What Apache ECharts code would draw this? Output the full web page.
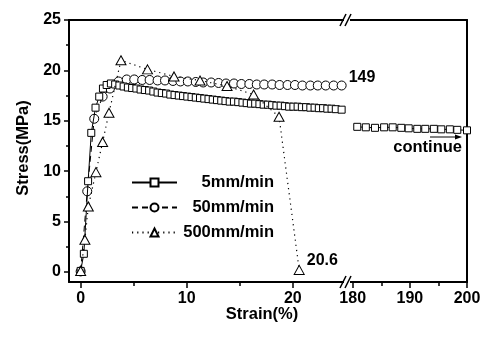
<!DOCTYPE html>
<html><head><meta charset="utf-8">
<script src="https://cdn.jsdelivr.net/npm/echarts@6/dist/echarts.min.js"></script>
<style>html,body{margin:0;padding:0;background:#fff}#c{width:485px;height:340px}</style>
</head><body><div id="c"></div><script>
// ---- data ----
const strain5 = [0, 0.3, 0.7, 1.0, 1.4, 1.75, 2.1, 2.45, 2.85, 3.25, 3.65, 4.05, 4.45, 4.85, 5.25, 5.65, 6.05, 6.45, 6.85, 7.25, 7.65, 8.05, 8.45, 8.85, 9.25, 9.65, 10.05, 10.45, 10.85, 11.25, 11.65, 12.05, 12.45, 12.85, 13.25, 13.65, 14.05, 14.45, 14.85, 15.25, 15.65, 16.05, 16.45, 16.85, 17.25, 17.65, 18.05, 18.45, 18.85, 19.25, 19.65, 20.05, 20.45, 20.85, 21.25, 21.65, 22.05, 22.45, 22.85, 23.25, 23.65, 24.05, 24.6];
const stress5 = [0.1, 1.8, 9.0, 13.8, 16.3, 17.4, 18.2, 18.55, 18.7, 18.6, 18.5, 18.4, 18.3, 18.25, 18.2, 18.1, 18.05, 18.0, 17.9, 17.8, 17.75, 17.7, 17.6, 17.55, 17.5, 17.45, 17.4, 17.35, 17.3, 17.25, 17.2, 17.15, 17.1, 17.05, 17.0, 16.95, 16.9, 16.9, 16.85, 16.8, 16.75, 16.7, 16.7, 16.65, 16.6, 16.6, 16.55, 16.5, 16.5, 16.45, 16.4, 16.4, 16.4, 16.35, 16.35, 16.3, 16.3, 16.25, 16.25, 16.2, 16.2, 16.15, 16.1];
const strain5cont = [180.8, 182.3, 183.9, 185.5, 187.0, 188.5, 189.8, 191.3, 192.7, 194.2, 195.5, 197.0, 198.3, 200.0];
const stress5cont = [14.4, 14.35, 14.3, 14.35, 14.35, 14.3, 14.25, 14.2, 14.2, 14.2, 14.15, 14.15, 14.1, 14.05];
const strain50 = [0, 0.62, 1.28, 2.07, 2.76, 3.58, 4.34, 5.05, 5.8, 6.5, 7.25, 7.95, 8.7, 9.4, 10.1, 10.85, 11.55, 12.3, 13.0, 13.7, 14.45, 15.15, 15.9, 16.6, 17.3, 18.05, 18.75, 19.5, 20.2, 20.9, 21.65, 22.35, 23.1, 23.85, 24.6];
const stress50 = [0.05, 8.0, 15.2, 17.4, 18.2, 18.9, 19.1, 19.1, 19.05, 19.05, 19.0, 19.0, 18.95, 18.9, 18.9, 18.85, 18.8, 18.8, 18.75, 18.7, 18.7, 18.65, 18.65, 18.6, 18.6, 18.6, 18.55, 18.55, 18.55, 18.5, 18.5, 18.5, 18.5, 18.5, 18.5];
const strain500 = [0, 0.4, 0.72, 1.44, 2.07, 2.67, 3.8, 6.3, 8.8, 11.25, 13.8, 16.3, 18.7, 20.6];
const stress500 = [0.1, 3.2, 6.5, 9.9, 12.9, 15.8, 21.0, 20.1, 19.4, 19.0, 18.45, 17.6, 15.4, 0.2];
const seriesNames = ['5mm/min', '50mm/min', '500mm/min'];
const xTicksLeft = [0, 10, 20];
const xMinorLeft = [5, 15];
const xTicksRight = [180, 190, 200];
const xMinorRight = [185, 195];
const yTicks = [0, 5, 10, 15, 20, 25];
const yMinor = [2.5, 7.5, 12.5, 17.5, 22.5];
const endLabel50 = '149';
const endLabel500 = '20.6';

// ---- chart ----
const F = '"Liberation Sans", Arial, sans-serif';
const txt = {fontFamily: F, fontWeight: 'bold', fontSize: 16, color: '#000'};
const zip = (a, b) => a.map((v, i) => [v, b[i]]);
const blackLine = {show: true, onZero: false, lineStyle: {color: '#000', width: 2}};
const noLine = {show: false, onZero: false};
const sym = {color: '#fff', borderColor: '#000', borderWidth: 1};

function lastLabel(arr, text, offset) {
  return arr.map((p, i) => i === arr.length - 1 ?
    {value: p, label: {show: true, formatter: text, position: 'right', distance: 2, offset: offset, ...txt}} : p);
}

const chart = echarts.init(document.getElementById('c'), null, {renderer: 'canvas'});
chart.setOption({
  animation: false,
  backgroundColor: '#fff',
  grid: [
    {left: 69, top: 20, width: 279, height: 262},
    {left: 348, top: 20, width: 119, height: 262}
  ],
  xAxis: [
    {gridIndex: 0, type: 'value', min: -1.1, max: 25.2, position: 'bottom', axisLine: blackLine, splitLine: {show: false},
      axisTick: {show: true, customValues: xTicksLeft, length: 6, lineStyle: {color: '#000', width: 1.5}},
      axisLabel: {show: true, customValues: xTicksLeft, margin: 9, ...txt}},
    {gridIndex: 0, type: 'value', min: -1.1, max: 25.2, position: 'bottom', offset: 0, axisLine: noLine, splitLine: {show: false},
      axisTick: {show: true, customValues: xMinorLeft, length: 4, lineStyle: {color: '#000', width: 1.5}},
      axisLabel: {show: false}},
    {gridIndex: 0, type: 'value', min: -1.1, max: 25.2, position: 'top', axisLine: blackLine, splitLine: {show: false},
      axisTick: {show: false}, axisLabel: {show: false}},
    {gridIndex: 1, type: 'value', min: 179.18, max: 200, position: 'bottom', axisLine: blackLine, splitLine: {show: false},
      axisTick: {show: true, customValues: xTicksRight, length: 6, lineStyle: {color: '#000', width: 1.5}},
      axisLabel: {show: true, customValues: xTicksRight, margin: 9, ...txt}},
    {gridIndex: 1, type: 'value', min: 179.18, max: 200, position: 'bottom', offset: 0, axisLine: noLine, splitLine: {show: false},
      axisTick: {show: true, customValues: xMinorRight, length: 4, lineStyle: {color: '#000', width: 1.5}},
      axisLabel: {show: false}},
    {gridIndex: 1, type: 'value', min: 179.18, max: 200, position: 'top', axisLine: blackLine, splitLine: {show: false},
      axisTick: {show: false}, axisLabel: {show: false}}
  ],
  yAxis: [
    {gridIndex: 0, type: 'value', min: -1, max: 25, position: 'left', axisLine: blackLine, splitLine: {show: false},
      axisTick: {show: true, customValues: yTicks, length: 5, lineStyle: {color: '#000', width: 1.5}},
      axisLabel: {show: true, customValues: yTicks, margin: 8, ...txt},
      name: 'Stress(MPa)', nameLocation: 'middle', nameGap: 36, nameRotate: 90,
      nameTextStyle: {...txt, fontSize: 16.5, padding: [0, 0, 0, 6]}},
    {gridIndex: 0, type: 'value', min: -1, max: 25, position: 'left', offset: 0, axisLine: noLine, splitLine: {show: false},
      axisTick: {show: true, customValues: yMinor, length: 3, lineStyle: {color: '#000', width: 1.5}},
      axisLabel: {show: false}},
    {gridIndex: 1, type: 'value', min: -1, max: 25, position: 'right', axisLine: blackLine, splitLine: {show: false},
      axisTick: {show: false}, axisLabel: {show: false}}
  ],
  legend: {
    orient: 'vertical', left: 126, top: 169, itemWidth: 45, itemHeight: 10, itemGap: 8,
    selectedMode: false, data: seriesNames,
    formatter: n => '{a|' + n + '}',
    textStyle: {rich: {a: {width: 92, align: 'right', lineHeight: 18, ...txt, fontSize: 16.5}}}
  },
  series: [
    {name: seriesNames[1], type: 'line', xAxisIndex: 0, yAxisIndex: 0, data: lastLabel(zip(strain50, stress50), endLabel50, [0, -8]),
      symbol: 'circle', symbolSize: 9, itemStyle: sym, lineStyle: {color: '#000', width: 1, type: [6, 4]}, emphasis: {disabled: true}, z: 2},
    {name: seriesNames[0], type: 'line', xAxisIndex: 0, yAxisIndex: 0, data: zip(strain5, stress5),
      symbol: 'rect', symbolSize: 7, itemStyle: sym, lineStyle: {color: '#000', width: 1, type: 'solid'}, emphasis: {disabled: true}, z: 3},
    {name: seriesNames[2], type: 'line', xAxisIndex: 0, yAxisIndex: 0, data: lastLabel(zip(strain500, stress500), endLabel500, [0, -9]),
      symbol: 'triangle', symbolSize: [10, 9], itemStyle: sym, lineStyle: {color: '#000', width: 1.2, type: [1.2, 4]}, emphasis: {disabled: true}, z: 4},
    {name: seriesNames[0], type: 'line', xAxisIndex: 3, yAxisIndex: 2, data: zip(strain5cont, stress5cont),
      symbol: 'rect', symbolSize: 7, itemStyle: sym, lineStyle: {color: '#000', width: 1, type: 'solid'}, emphasis: {disabled: true}, z: 3}
  ],
  graphic: [
    {type: 'rect', shape: {x: 344, y: 16, width: 6, height: 8}, style: {fill: '#fff'}, z: 100},
    {type: 'line', shape: {x1: 340, y1: 26, x2: 346, y2: 14}, style: {stroke: '#000', lineWidth: 1.5}, z: 101},
    {type: 'line', shape: {x1: 345, y1: 26, x2: 351, y2: 14}, style: {stroke: '#000', lineWidth: 1.5}, z: 101},
    {type: 'rect', shape: {x: 344, y: 278, width: 6, height: 8}, style: {fill: '#fff'}, z: 100},
    {type: 'line', shape: {x1: 340, y1: 288, x2: 346, y2: 276}, style: {stroke: '#000', lineWidth: 1.5}, z: 101},
    {type: 'line', shape: {x1: 345, y1: 288, x2: 351, y2: 276}, style: {stroke: '#000', lineWidth: 1.5}, z: 101},
    {type: 'line', shape: {x1: 430, y1: 137, x2: 458, y2: 137}, style: {stroke: '#000', lineWidth: 1}, z: 101},
    {type: 'polygon', shape: {points: [[462, 137], [455, 134.5], [455, 139.5]]}, style: {fill: '#000'}, z: 101},
    {type: 'text', x: 462, y: 147, style: {text: 'continue', align: 'right', verticalAlign: 'middle', fill: '#000', font: 'bold 16.5px ' + F}, z: 101},
    {type: 'text', x: 262, y: 314, style: {text: 'Strain(%)', align: 'center', verticalAlign: 'middle', fill: '#000', font: 'bold 16.5px ' + F}, z: 101}
  ]
});
</script></body></html>
